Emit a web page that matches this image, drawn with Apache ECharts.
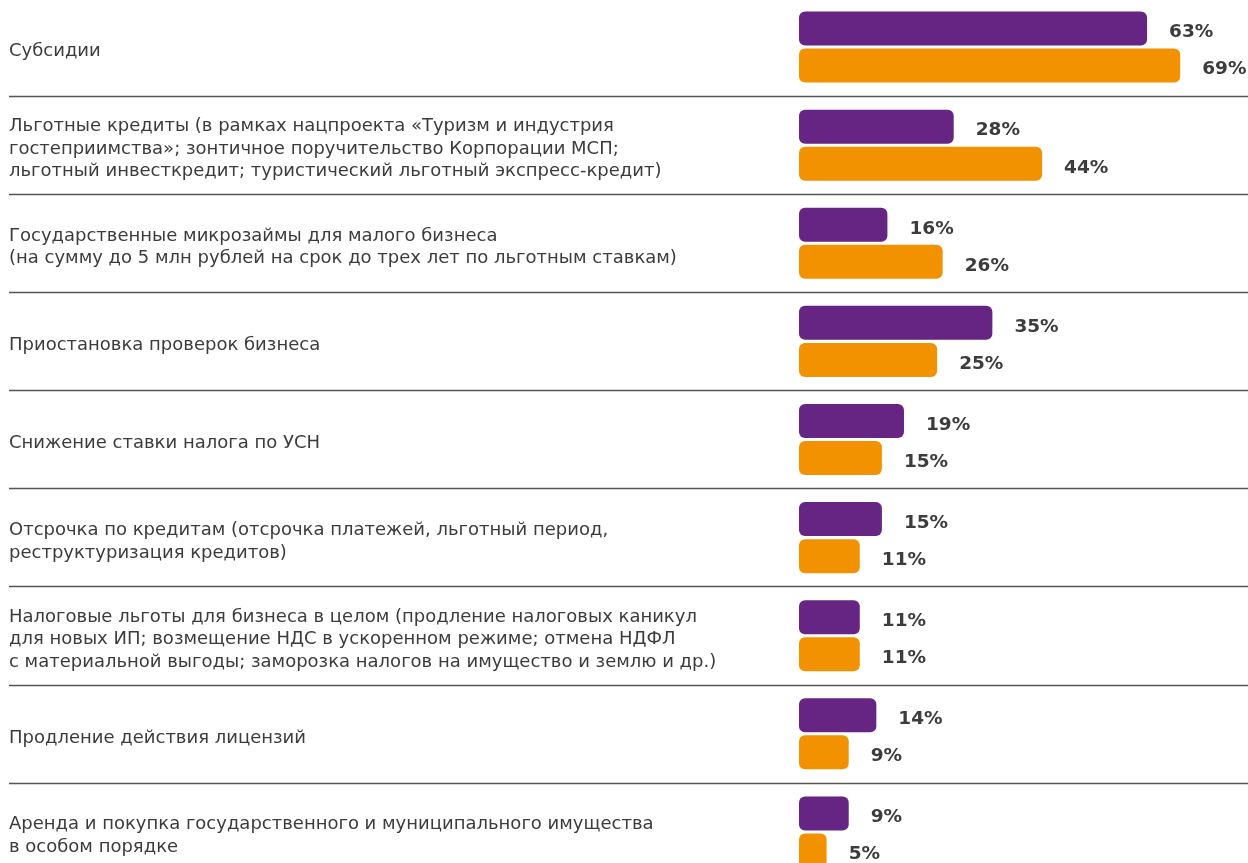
<!DOCTYPE html>
<html>
<head>
<meta charset="utf-8">
<script src="https://cdn.jsdelivr.net/npm/echarts@6/dist/echarts.min.js"></script>
<style>
  html, body { margin: 0; padding: 0; background: #ffffff; }
  #chart { width: 1248px; height: 863px; }
</style>
</head>
<body>
<div id="chart"></div>
<script>
// Support measures (categories, top to bottom)
const categories = [
  'Субсидии',
  'Льготные кредиты (в рамках нацпроекта «Туризм и индустрия\nгостеприимства»; зонтичное поручительство Корпорации МСП;\nльготный инвесткредит; туристический льготный экспресс-кредит)',
  'Государственные микрозаймы для малого бизнеса\n(на сумму до 5 млн рублей на срок до трех лет по льготным ставкам)',
  'Приостановка проверок бизнеса',
  'Снижение ставки налога по УСН',
  'Отсрочка по кредитам (отсрочка платежей, льготный период,\nреструктуризация кредитов)',
  'Налоговые льготы для бизнеса в целом (продление налоговых каникул\nдля новых ИП; возмещение НДС в ускоренном режиме; отмена НДФЛ\nс материальной выгоды; заморозка налогов на имущество и землю и др.)',
  'Продление действия лицензий',
  'Аренда и покупка государственного и муниципального имущества\nв особом порядке'
];

// Shares, %
const purpleValues = [63, 28, 16, 35, 19, 15, 11, 14, 9];
const orangeValues = [69, 44, 26, 25, 15, 11, 11, 9, 5];

const PURPLE = '#662483';
const ORANGE = '#F39200';
const TEXT = '#3c3c3b';
const FONT = '"DejaVu Sans", "Open Sans", sans-serif';

const chart = echarts.init(document.getElementById('chart'), null, { renderer: 'canvas' });

// each row is ~98px tall; the last row runs past the bottom edge
const rowTop = -2;
const rowBottom = -18;
// category text sits a little below the row centre
const textShift = 4;

const valueLabel = {
  show: true,
  position: 'right',
  distance: 22,
  offset: [0, 4],
  formatter: '{c}%',
  color: TEXT,
  fontFamily: FONT,
  fontWeight: 'bold',
  fontSize: 18.5
};

chart.setOption({
  animation: false,
  grid: [
    // full-width band: row separators
    { left: 9, right: 0, top: rowTop, bottom: rowBottom, outerBoundsMode: 'none', containLabel: false },
    // bar area
    { left: 799, right: 7, top: rowTop, bottom: rowBottom, outerBoundsMode: 'none', containLabel: false },
    // category text
    { left: 9, right: 0, top: rowTop + textShift, bottom: rowBottom - textShift, outerBoundsMode: 'none', containLabel: false }
  ],
  xAxis: [
    { gridIndex: 0, type: 'value', min: 0, max: 1, show: false },
    { gridIndex: 1, type: 'value', min: 0, max: 80, show: false },
    { gridIndex: 2, type: 'value', min: 0, max: 1, show: false }
  ],
  yAxis: [
    {
      gridIndex: 0,
      type: 'category',
      data: categories,
      inverse: true,
      axisLine: { show: false },
      axisTick: { show: false },
      axisLabel: { show: false },
      splitLine: {
        show: true,
        interval: function (index) { return index !== 0; },
        lineStyle: { color: '#555555', width: 1.4 }
      }
    },
    {
      gridIndex: 1,
      type: 'category',
      data: categories,
      inverse: true,
      show: false
    },
    {
      gridIndex: 2,
      type: 'category',
      data: categories,
      inverse: true,
      axisLine: { show: false },
      axisTick: { show: false },
      splitLine: { show: false },
      axisLabel: {
        inside: true,
        margin: 0,
        align: 'left',
        color: TEXT,
        fontFamily: FONT,
        fontSize: 18,
        lineHeight: 22.5,
        verticalAlign: 'middle'
      }
    }
  ],
  series: [
    {
      type: 'bar',
      xAxisIndex: 1,
      yAxisIndex: 1,
      data: purpleValues,
      barWidth: 34,
      barGap: '9%',
      itemStyle: { color: PURPLE, borderRadius: 6 },
      label: valueLabel
    },
    {
      type: 'bar',
      xAxisIndex: 1,
      yAxisIndex: 1,
      data: orangeValues,
      barWidth: 34,
      barGap: '9%',
      itemStyle: { color: ORANGE, borderRadius: 6 },
      label: valueLabel
    }
  ]
});
</script>
</body>
</html>
